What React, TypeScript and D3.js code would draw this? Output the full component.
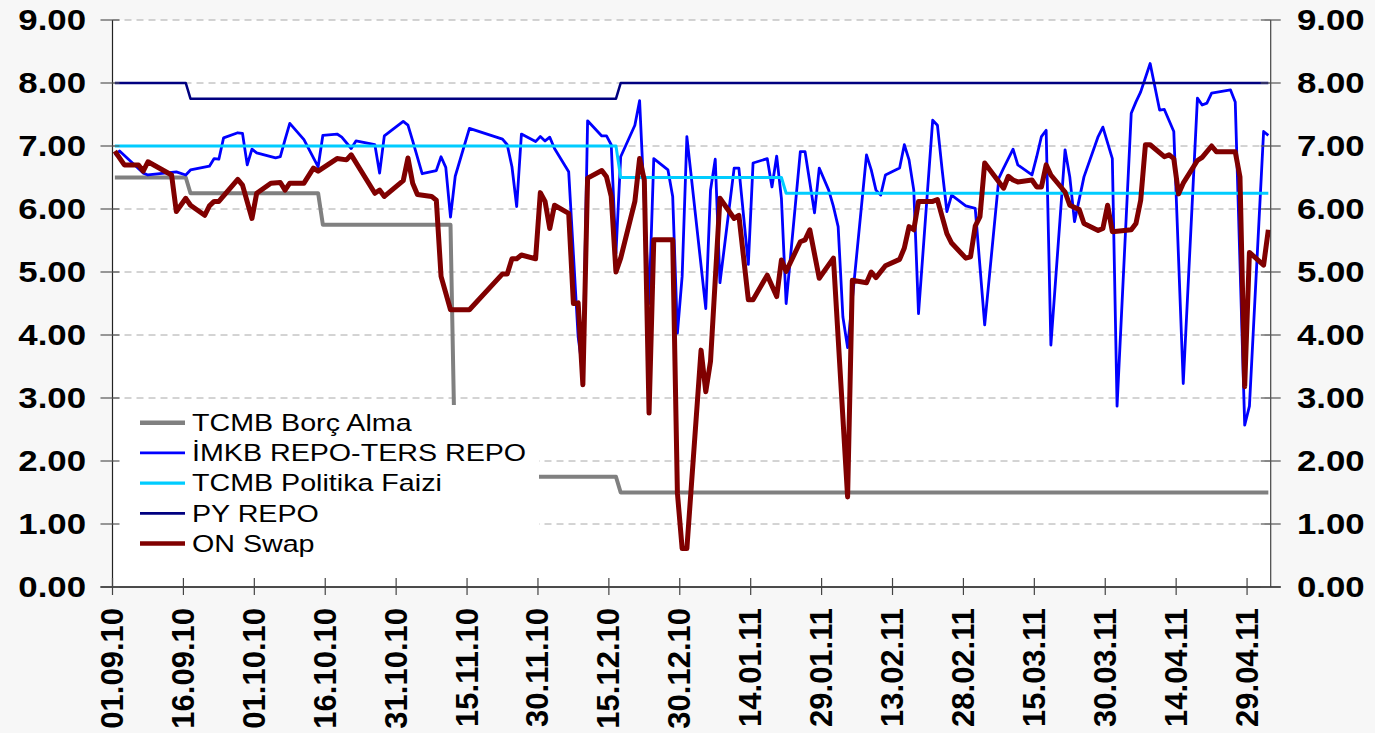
import React from "react";
import * as d3 from "d3";

// ---------- data ----------
const START_DATE = "01.09.10";
const END_DATE = "04.05.11"; // axis end

const xTickLabels = [
  "01.09.10", "16.09.10", "01.10.10", "16.10.10", "31.10.10", "15.11.10",
  "30.11.10", "15.12.10", "30.12.10", "14.01.11", "29.01.11", "13.02.11",
  "28.02.11", "15.03.11", "30.03.11", "14.04.11", "29.04.11",
];
const yTickValues = [0, 1, 2, 3, 4, 5, 6, 7, 8, 9];

// [days since 01.09.10, value]
const tcmbBorcAlma: [number, number][] = [
  [0, 6.5], [15, 6.5], [16, 6.25], [43, 6.25], [44, 5.75], [71, 5.75],
  [72, 1.75], [106, 1.75], [107, 1.5], [244, 1.5],
];

const imkbRepo: [number, number][] = [
  [0, 6.85], [1, 6.92], [6, 6.57], [7, 6.54], [13, 6.59], [15, 6.54], [16, 6.62],
  [20, 6.68], [21, 6.8], [22, 6.79], [23, 7.13], [26, 7.21], [27, 7.2], [28, 6.7],
  [29, 6.95], [30, 6.89], [34, 6.81], [35, 6.83], [36, 7.1], [37, 7.36], [40, 7.1],
  [43, 6.67], [44, 7.17], [47, 7.19], [48, 7.14], [50, 6.96], [51, 7.08], [55, 7.02],
  [56, 6.57], [57, 7.16], [61, 7.39], [62, 7.33], [63, 7.08], [65, 6.56], [68, 6.61],
  [69, 6.83], [70, 6.66], [71, 5.87], [72, 6.52], [75, 7.28], [82, 7.11], [83, 7.02],
  [84, 6.67], [85, 6.04], [86, 7.19], [89, 7.07], [90, 7.15], [91, 7.08], [92, 7.14],
  [93, 6.96], [96, 6.59], [98, 3.97], [99, 3.4], [100, 7.4], [103, 7.16], [104, 7.16],
  [105, 7.02], [106, 5.3], [107, 6.83], [110, 7.33], [111, 7.72], [113, 4.5],
  [114, 6.8], [117, 6.62], [118, 6.2], [119, 4.03], [120, 4.93], [121, 7.15],
  [125, 4.42], [126, 6.3], [127, 6.79], [128, 4.83], [131, 6.65], [132, 6.65],
  [134, 5.12], [135, 6.73], [138, 6.8], [139, 6.35], [140, 6.84], [141, 6.17],
  [142, 4.5], [145, 6.91], [146, 6.91], [148, 5.94], [149, 6.65], [151, 6.3],
  [152, 6.04], [153, 5.72], [154, 4.29], [155, 3.8], [159, 6.86], [160, 6.62],
  [161, 6.3], [162, 6.22], [163, 6.54], [166, 6.65], [167, 7.02], [168, 6.78],
  [169, 6.3], [170, 4.34], [173, 7.41], [174, 7.33], [175, 6.62], [176, 5.96],
  [177, 6.22], [180, 6.05], [182, 6.01], [184, 4.16], [187, 6.49], [188, 6.65],
  [190, 6.95], [191, 6.7], [194, 6.54], [195, 6.83], [196, 7.15], [197, 7.25],
  [198, 3.84], [201, 6.94], [202, 6.51], [203, 5.8], [205, 6.51], [208, 7.15],
  [209, 7.3], [211, 6.8], [212, 2.87], [215, 7.52], [216, 7.7], [217, 7.86],
  [219, 8.31], [221, 7.57], [222, 7.58], [224, 7.23], [226, 3.23], [229, 7.76],
  [230, 7.65], [231, 7.68], [232, 7.84], [236, 7.89], [237, 7.7], [239, 2.57],
  [240, 2.87], [243, 7.23], [244, 7.17],
];

const tcmbPolitikaFaizi: [number, number][] = [
  [0, 7.0], [106, 7.0], [107, 6.5], [141, 6.5], [142, 6.25], [244, 6.25],
];

const pyRepo: [number, number][] = [
  [0, 8.0], [15, 8.0], [16, 7.75], [106, 7.75], [107, 8.0], [244, 8.0],
];

const onSwap: [number, number][] = [
  [0, 6.92], [2, 6.7], [5, 6.7], [6, 6.6], [7, 6.75], [12, 6.54], [13, 5.96],
  [15, 6.17], [16, 6.06], [19, 5.9], [20, 6.05], [21, 6.12], [22, 6.12], [26, 6.47],
  [27, 6.38], [29, 5.85], [30, 6.25], [33, 6.41], [35, 6.42], [36, 6.3], [37, 6.41],
  [40, 6.41], [42, 6.65], [43, 6.6], [47, 6.8], [49, 6.78], [50, 6.86], [55, 6.25],
  [56, 6.3], [57, 6.2], [61, 6.45], [62, 6.81], [63, 6.41], [64, 6.23], [67, 6.2],
  [68, 6.14], [69, 4.93], [71, 4.4], [75, 4.4], [82, 4.97], [83, 4.97], [84, 5.21],
  [85, 5.21], [86, 5.27], [89, 5.21], [90, 6.26], [91, 6.12], [92, 5.69], [93, 6.06],
  [96, 5.93], [97, 4.5], [98, 4.51], [99, 3.21], [100, 6.49], [103, 6.61],
  [104, 6.51], [105, 6.2], [106, 5.0], [107, 5.22], [110, 6.12], [111, 6.8],
  [112, 6.46], [113, 2.76], [114, 5.51], [118, 5.51], [119, 1.49], [120, 0.61],
  [121, 0.61], [124, 3.76], [125, 3.1], [126, 3.58], [128, 6.17], [131, 5.85],
  [132, 5.9], [134, 4.56], [135, 4.56], [138, 4.95], [140, 4.61], [141, 5.19],
  [142, 5.01], [145, 5.48], [146, 5.51], [147, 5.67], [149, 4.9], [152, 5.22],
  [155, 1.43], [156, 4.87], [159, 4.83], [160, 5.0], [161, 4.91], [163, 5.1],
  [166, 5.2], [167, 5.38], [168, 5.72], [169, 5.67], [170, 6.12], [173, 6.12],
  [174, 6.15], [176, 5.61], [177, 5.46], [180, 5.22], [181, 5.24], [182, 5.73],
  [183, 5.88], [184, 6.73], [188, 6.33], [189, 6.52], [190, 6.46], [191, 6.43],
  [194, 6.46], [195, 6.35], [196, 6.35], [197, 6.7], [198, 6.54], [201, 6.27],
  [202, 6.06], [204, 5.99], [205, 5.77], [208, 5.66], [209, 5.69], [210, 6.06],
  [211, 5.64], [215, 5.67], [216, 5.77], [217, 6.14], [218, 7.02], [219, 7.02],
  [222, 6.83], [223, 6.86], [224, 6.8], [225, 6.24], [226, 6.41], [229, 6.77],
  [230, 6.82], [232, 7.0], [233, 6.91], [237, 6.91], [238, 6.51], [239, 3.18],
  [240, 5.31], [243, 5.11], [244, 5.67],
];

const seriesNames = [
  "TCMB Borç Alma",
  "İMKB REPO-TERS REPO",
  "TCMB Politika Faizi",
  "PY REPO",
  "ON Swap",
];
const seriesData = [tcmbBorcAlma, imkbRepo, tcmbPolitikaFaizi, pyRepo, onSwap];
const seriesColors = ["#808080", "#0000ff", "#00ccff", "#000080", "#800000"];
const seriesWidths = [4, 2.8, 3, 2.6, 5];
const legendWidths = [4.5, 2.6, 3.2, 2.8, 4.5];

// ---------- layout ----------
const W = 1375;
const H = 733;
const LEFT = 112.5;
const RIGHT = 1270.7;
const TOP = 20;
const BOTTOM = 587;
const FONT = "'Liberation Sans', Arial, Helvetica, sans-serif";
const HSTRETCH = 1.16;

export default function App() {
  const parse = d3.utcParse("%d.%m.%y");
  const start = parse(START_DATE) as Date;
  const end = parse(END_DATE) as Date;

  const x = d3.scaleUtc().domain([start, end]).range([LEFT, RIGHT]);
  const y = d3.scaleLinear().domain([0, 9]).range([BOTTOM, TOP]);
  const pointDate = (d: number) => d3.utcHour.offset(start, d * 24 + 12);

  const line = d3
    .line<[number, number]>()
    .x((d) => x(pointDate(d[0])))
    .y((d) => y(d[1]));

  const fmt = d3.format(".2f");
  const tickDates = xTickLabels.map((l) => parse(l) as Date);

  return (
    <div style={{ position: "absolute", left: 0, top: 0 }}>
      <svg width={W} height={H} style={{ display: "block", fontFamily: FONT }}>
        <rect x={0} y={0} width={W} height={H} fill="#f7f7f7" />
        <rect x={LEFT} y={TOP} width={RIGHT - LEFT} height={BOTTOM - TOP} fill="#ffffff" />

        {/* gridlines */}
        {yTickValues
          .filter((v) => v > 0)
          .map((v) => (
            <line
              key={"g" + v}
              x1={LEFT}
              x2={RIGHT}
              y1={y(v)}
              y2={y(v)}
              stroke="#a8a8a8"
              strokeWidth={1}
              strokeDasharray="7,5"
            />
          ))}

        {/* series */}
        {seriesData.map((data, i) => (
          <path
            key={"s" + i}
            d={line(data) || ""}
            fill="none"
            stroke={seriesColors[i]}
            strokeWidth={seriesWidths[i]}
            strokeLinejoin="round"
            strokeLinecap="butt"
          />
        ))}

        {/* legend */}
        <rect x={LEFT + 1} y={405} width={539 - LEFT - 1} height={168} fill="#ffffff" />
        {seriesNames.map((name, i) => {
          const ly = 422.7 + i * 30.2;
          return (
            <g key={"l" + i}>
              <line
                x1={140}
                x2={185}
                y1={ly}
                y2={ly}
                stroke={seriesColors[i]}
                strokeWidth={legendWidths[i]}
              />
              <text
                transform={`translate(192,${ly}) scale(${HSTRETCH},1)`}
                dominantBaseline="central"
                fontSize={24.7}
                fill="#000"
              >
                {name}
              </text>
            </g>
          );
        })}

        {/* axes */}
        <line x1={LEFT} x2={LEFT} y1={TOP} y2={BOTTOM} stroke="#222" strokeWidth={1.2} />
        <line x1={RIGHT} x2={RIGHT} y1={TOP} y2={BOTTOM} stroke="#444" strokeWidth={1.2} />
        <line x1={LEFT - 12} x2={RIGHT + 10} y1={BOTTOM} y2={BOTTOM} stroke="#111" strokeWidth={1.4} />

        {/* y ticks & labels */}
        {yTickValues.map((v) => (
          <g key={"y" + v}>
            <line x1={LEFT - 12} x2={LEFT + 7} y1={y(v)} y2={y(v)} stroke="#555" strokeWidth={1.2} />
            <line x1={RIGHT - 10} x2={RIGHT + 10} y1={y(v)} y2={y(v)} stroke="#555" strokeWidth={1.2} />
            <text
              transform={`translate(86,${y(v)}) scale(${HSTRETCH},1)`}
              textAnchor="end"
              dominantBaseline="central"
              fontSize={30}
              fontWeight="bold"
              fill="#000"
            >
              {fmt(v)}
            </text>
            <text
              transform={`translate(1297,${y(v)}) scale(${HSTRETCH},1)`}
              textAnchor="start"
              dominantBaseline="central"
              fontSize={30}
              fontWeight="bold"
              fill="#000"
            >
              {fmt(v)}
            </text>
          </g>
        ))}

        {/* x ticks & labels */}
        {tickDates.map((d, i) => (
          <g key={"x" + i}>
            <line x1={x(d)} x2={x(d)} y1={BOTTOM - 9} y2={BOTTOM + 8} stroke="#444" strokeWidth={1.2} />
            <text
              transform={`translate(${x(d)},608) rotate(-90)`}
              textAnchor="end"
              dominantBaseline="central"
              fontSize={31}
              fontWeight="bold"
              fill="#000"
            >
              {xTickLabels[i]}
            </text>
          </g>
        ))}
      </svg>
    </div>
  );
}
